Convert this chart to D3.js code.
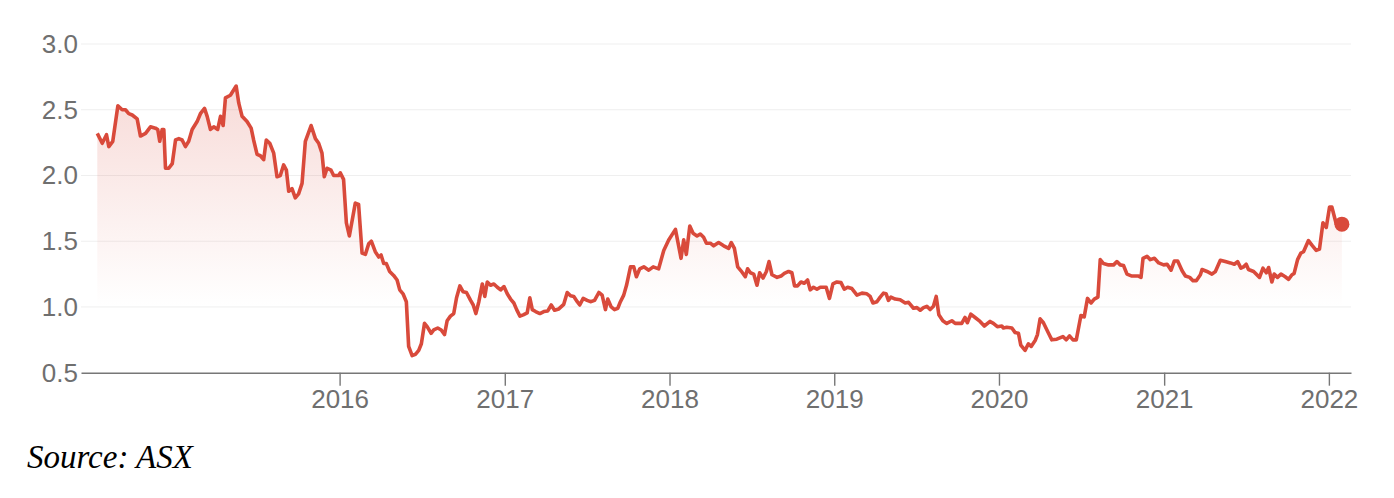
<!DOCTYPE html>
<html>
<head>
<meta charset="utf-8">
<script src="https://cdn.jsdelivr.net/npm/d3@7"></script>
<style>
  html, body { margin: 0; padding: 0; background: #fff; }
  svg { display: block; }
  .axis text { font-family: "Liberation Sans", Arial, sans-serif; font-size: 26px; fill: #6f6f6f; }
  .source { font-family: "Liberation Serif", "Times New Roman", serif; font-style: italic; font-size: 33px; fill: #000; }
</style>
</head>
<body>
<div id="chart"></div>
<script>
// dates as decimal years
const dates = [
  2014.529, 2014.559, 2014.585, 2014.599, 2014.623, 2014.654, 2014.680, 2014.700, 2014.720, 2014.741,
  2014.771, 2014.791, 2014.822, 2014.852, 2014.882, 2014.896, 2014.908, 2014.923, 2014.933, 2014.943,
  2014.963, 2014.984, 2015.004, 2015.024, 2015.044, 2015.064, 2015.084, 2015.105, 2015.135, 2015.155,
  2015.180, 2015.196, 2015.216, 2015.236, 2015.260, 2015.277, 2015.293, 2015.307, 2015.337, 2015.357,
  2015.372, 2015.388, 2015.408, 2015.438, 2015.463, 2015.478, 2015.499, 2015.519, 2015.539, 2015.555,
  2015.576, 2015.600, 2015.620, 2015.640, 2015.660, 2015.677, 2015.691, 2015.711, 2015.731, 2015.751,
  2015.772, 2015.792, 2015.827, 2015.853, 2015.873, 2015.893, 2015.907, 2015.924, 2015.948, 2015.964,
  2015.994, 2016.004, 2016.024, 2016.041, 2016.059, 2016.095, 2016.115, 2016.136, 2016.156, 2016.176,
  2016.192, 2016.216, 2016.237, 2016.251, 2016.267, 2016.283, 2016.303, 2016.327, 2016.348, 2016.364,
  2016.384, 2016.404, 2016.418, 2016.439, 2016.459, 2016.479, 2016.495, 2016.514, 2016.530, 2016.554,
  2016.570, 2016.594, 2016.615, 2016.635, 2016.651, 2016.671, 2016.691, 2016.708, 2016.728, 2016.748,
  2016.768, 2016.793, 2016.809, 2016.825, 2016.843, 2016.864, 2016.879, 2016.894, 2016.914, 2016.934,
  2016.955, 2016.975, 2016.995, 2017.015, 2017.035, 2017.055, 2017.072, 2017.092, 2017.112, 2017.136,
  2017.152, 2017.167, 2017.187, 2017.213, 2017.237, 2017.261, 2017.282, 2017.302, 2017.328, 2017.358,
  2017.379, 2017.399, 2017.419, 2017.440, 2017.455, 2017.476, 2017.500, 2017.520, 2017.545, 2017.571,
  2017.591, 2017.611, 2017.625, 2017.646, 2017.666, 2017.686, 2017.702, 2017.722, 2017.739, 2017.763,
  2017.783, 2017.799, 2017.819, 2017.844, 2017.874, 2017.901, 2017.934, 2017.965, 2017.995, 2018.036,
  2018.070, 2018.086, 2018.102, 2018.123, 2018.143, 2018.167, 2018.187, 2018.207, 2018.224, 2018.248,
  2018.268, 2018.298, 2018.329, 2018.359, 2018.375, 2018.394, 2018.414, 2018.434, 2018.460, 2018.474,
  2018.491, 2018.511, 2018.531, 2018.547, 2018.568, 2018.588, 2018.604, 2018.622, 2018.653, 2018.677,
  2018.697, 2018.723, 2018.743, 2018.759, 2018.777, 2018.798, 2018.818, 2018.838, 2018.854, 2018.874,
  2018.895, 2018.915, 2018.951, 2018.971, 2018.992, 2019.016, 2019.041, 2019.061, 2019.081, 2019.107,
  2019.138, 2019.168, 2019.198, 2019.218, 2019.235, 2019.259, 2019.279, 2019.299, 2019.315, 2019.329,
  2019.344, 2019.370, 2019.400, 2019.431, 2019.451, 2019.481, 2019.502, 2019.522, 2019.542, 2019.562,
  2019.582, 2019.602, 2019.619, 2019.635, 2019.659, 2019.683, 2019.714, 2019.734, 2019.774, 2019.794,
  2019.808, 2019.829, 2019.855, 2019.885, 2019.911, 2019.946, 2019.966, 2019.990, 2020.017, 2020.027,
  2020.047, 2020.078, 2020.098, 2020.118, 2020.132, 2020.158, 2020.178, 2020.195, 2020.219, 2020.233,
  2020.249, 2020.269, 2020.300, 2020.320, 2020.350, 2020.387, 2020.407, 2020.427, 2020.448, 2020.468,
  2020.496, 2020.516, 2020.536, 2020.557, 2020.577, 2020.599, 2020.613, 2020.633, 2020.663, 2020.694,
  2020.714, 2020.734, 2020.754, 2020.775, 2020.805, 2020.845, 2020.860, 2020.872, 2020.896, 2020.916,
  2020.941, 2020.967, 2020.997, 2021.018, 2021.042, 2021.062, 2021.082, 2021.109, 2021.129, 2021.155,
  2021.175, 2021.195, 2021.220, 2021.230, 2021.260, 2021.290, 2021.311, 2021.341, 2021.371, 2021.402,
  2021.426, 2021.446, 2021.466, 2021.482, 2021.498, 2021.512, 2021.543, 2021.579, 2021.600, 2021.620,
  2021.634, 2021.654, 2021.668, 2021.688, 2021.709, 2021.735, 2021.755, 2021.776, 2021.789, 2021.810,
  2021.830, 2021.846, 2021.876, 2021.897, 2021.923, 2021.943, 2021.964, 2021.984, 2022.004, 2022.018,
  2022.044, 2022.079
];

const prices = [
  2.32, 2.245, 2.31, 2.22, 2.26, 2.53, 2.50, 2.50, 2.47, 2.46,
  2.43, 2.30, 2.32, 2.37, 2.36, 2.35, 2.26, 2.35, 2.35, 2.055,
  2.055, 2.09, 2.27, 2.28, 2.27, 2.22, 2.26, 2.35, 2.41, 2.47,
  2.51, 2.45, 2.35, 2.37, 2.35, 2.45, 2.38, 2.59, 2.61, 2.65,
  2.68, 2.55, 2.45, 2.41, 2.36, 2.27, 2.16, 2.15, 2.12, 2.27,
  2.245, 2.17, 1.99, 2.00, 2.08, 2.04, 1.88, 1.90, 1.83, 1.86,
  1.94, 2.26, 2.38, 2.28, 2.245, 2.17, 1.99, 2.055, 2.04, 2.00,
  2.00, 2.02, 1.97, 1.64, 1.54, 1.79, 1.78, 1.41, 1.40, 1.48,
  1.50, 1.42, 1.38, 1.395, 1.33, 1.33, 1.27, 1.24, 1.205, 1.13,
  1.10, 1.04, 0.70, 0.63, 0.64, 0.67, 0.72, 0.875, 0.85, 0.80,
  0.825, 0.84, 0.825, 0.79, 0.895, 0.93, 0.95, 1.07, 1.16, 1.115,
  1.11, 1.05, 1.015, 0.95, 1.04, 1.175, 1.08, 1.19, 1.165, 1.175,
  1.15, 1.13, 1.155, 1.10, 1.06, 1.03, 0.98, 0.93, 0.94, 0.955,
  1.07, 0.98, 0.965, 0.95, 0.965, 0.97, 1.015, 0.975, 0.985, 1.02,
  1.11, 1.085, 1.08, 1.04, 1.015, 1.065, 1.05, 1.04, 1.05, 1.11,
  1.09, 0.98, 1.06, 1.00, 0.98, 0.99, 1.04, 1.09, 1.165, 1.305,
  1.305, 1.23, 1.29, 1.305, 1.28, 1.305, 1.29, 1.43, 1.51, 1.59,
  1.37, 1.51, 1.40, 1.615, 1.56, 1.54, 1.555, 1.53, 1.485, 1.485,
  1.465, 1.49, 1.465, 1.445, 1.49, 1.445, 1.305, 1.275, 1.23, 1.29,
  1.26, 1.25, 1.165, 1.26, 1.22, 1.27, 1.345, 1.245, 1.225, 1.235,
  1.255, 1.27, 1.26, 1.16, 1.16, 1.19, 1.18, 1.205, 1.13, 1.15,
  1.135, 1.15, 1.15, 1.065, 1.175, 1.19, 1.185, 1.135, 1.15, 1.14,
  1.09, 1.105, 1.10, 1.08, 1.03, 1.04, 1.075, 1.105, 1.10, 1.05,
  1.075, 1.06, 1.055, 1.03, 1.035, 0.99, 0.995, 0.975, 0.995, 1.005,
  0.98, 1.005, 1.08, 0.94, 0.895, 0.875, 0.895, 0.875, 0.875, 0.92,
  0.88, 0.945, 0.92, 0.89, 0.855, 0.89, 0.875, 0.85, 0.855, 0.84,
  0.845, 0.84, 0.805, 0.80, 0.71, 0.67, 0.72, 0.70, 0.745, 0.79,
  0.91, 0.88, 0.80, 0.75, 0.755, 0.775, 0.75, 0.78, 0.75, 0.75,
  0.935, 0.925, 1.065, 1.03, 1.06, 1.075, 1.36, 1.33, 1.32, 1.32,
  1.345, 1.32, 1.315, 1.25, 1.235, 1.235, 1.225, 1.37, 1.385, 1.36,
  1.37, 1.335, 1.32, 1.325, 1.28, 1.35, 1.35, 1.275, 1.235, 1.225,
  1.20, 1.20, 1.245, 1.285, 1.27, 1.25, 1.27, 1.355, 1.345, 1.335,
  1.325, 1.345, 1.295, 1.305, 1.325, 1.285, 1.27, 1.225, 1.295, 1.26,
  1.30, 1.19, 1.25, 1.225, 1.25, 1.23, 1.21, 1.245, 1.255, 1.36,
  1.41, 1.42, 1.505, 1.47, 1.43, 1.44, 1.64, 1.605, 1.76, 1.76,
  1.635, 1.63
];

const yTicks = [0.5, 1.0, 1.5, 2.0, 2.5, 3.0];
const xTickYears = [2016, 2017, 2018, 2019, 2020, 2021, 2022];
const xDomain = ['2014-06-07', '2022-02-19'];
const sourceText = 'Source: ASX';

const lineColor = '#d94a3b';

function fromDecimalYear(t) {
  const y = Math.floor(t);
  const start = new Date(y, 0, 1);
  const end = new Date(y + 1, 0, 1);
  return new Date(+start + (t - y) * (end - start));
}

const data = dates.map((t, i) => ({ date: fromDecimalYear(t), value: prices[i] }));

const width = 1394;
const height = 498;

const xScale = d3.scaleTime()
  .domain(xDomain.map(d => new Date(d + 'T00:00')))
  .range([81, 1351]);

const yScale = d3.scaleLinear()
  .domain([0.5, 3.0])
  .range([372.7, 44]);

const svg = d3.select('#chart')
  .append('svg')
  .attr('width', width)
  .attr('height', height);

// gradient under the line
const defs = svg.append('defs');
const grad = defs.append('linearGradient')
  .attr('id', 'areaGrad')
  .attr('gradientUnits', 'userSpaceOnUse')
  .attr('x1', 0).attr('x2', 0)
  .attr('y1', yScale(d3.max(prices)))
  .attr('y2', yScale(1.0));
grad.append('stop').attr('offset', 0).attr('stop-color', lineColor).attr('stop-opacity', 0.2);
grad.append('stop').attr('offset', 1).attr('stop-color', lineColor).attr('stop-opacity', 0);

// gridlines
svg.append('g')
  .attr('class', 'gridlines')
  .selectAll('line')
  .data(yTicks.slice(1))
  .join('line')
  .attr('x1', xScale.range()[0])
  .attr('x2', xScale.range()[1])
  .attr('y1', d => yScale(d))
  .attr('y2', d => yScale(d))
  .attr('stroke', '#efefef')
  .attr('stroke-width', 1);

// area + line
const area = d3.area()
  .x(d => xScale(d.date))
  .y0(yScale(0.5))
  .y1(d => yScale(d.value));

svg.append('path')
  .datum(data)
  .attr('fill', 'url(#areaGrad)')
  .attr('d', area);

const line = d3.line()
  .x(d => xScale(d.date))
  .y(d => yScale(d.value));

svg.append('path')
  .datum(data)
  .attr('fill', 'none')
  .attr('stroke', lineColor)
  .attr('stroke-width', 3.6)
  .attr('stroke-linejoin', 'round')
  .attr('d', line);

// end dot
const last = data[data.length - 1];
svg.append('circle')
  .attr('cx', xScale(last.date))
  .attr('cy', yScale(last.value))
  .attr('r', 7.5)
  .attr('fill', lineColor);

// x axis
const xAxis = d3.axisBottom(xScale)
  .tickValues(xTickYears.map(y => new Date(y, 0, 1)))
  .tickFormat(d3.timeFormat('%Y'))
  .tickSize(13)
  .tickSizeOuter(0)
  .tickPadding(4);

const gx = svg.append('g')
  .attr('class', 'axis')
  .attr('transform', `translate(0, ${yScale(0.5)})`)
  .call(xAxis);
gx.select('.domain').attr('stroke', '#777').attr('stroke-width', 1.4);
gx.selectAll('.tick line').attr('stroke', '#777').attr('stroke-width', 1.4);

// y axis (labels only)
const yAxis = d3.axisLeft(yScale)
  .tickValues(yTicks)
  .tickFormat(d3.format('.1f'))
  .tickSize(0)
  .tickPadding(3);

const gy = svg.append('g')
  .attr('class', 'axis')
  .attr('transform', `translate(${xScale.range()[0]}, 0)`)
  .call(yAxis);
gy.select('.domain').remove();

// source note
svg.append('text')
  .attr('class', 'source')
  .attr('x', 27)
  .attr('y', 468)
  .text(sourceText);
</script>
</body>
</html>
